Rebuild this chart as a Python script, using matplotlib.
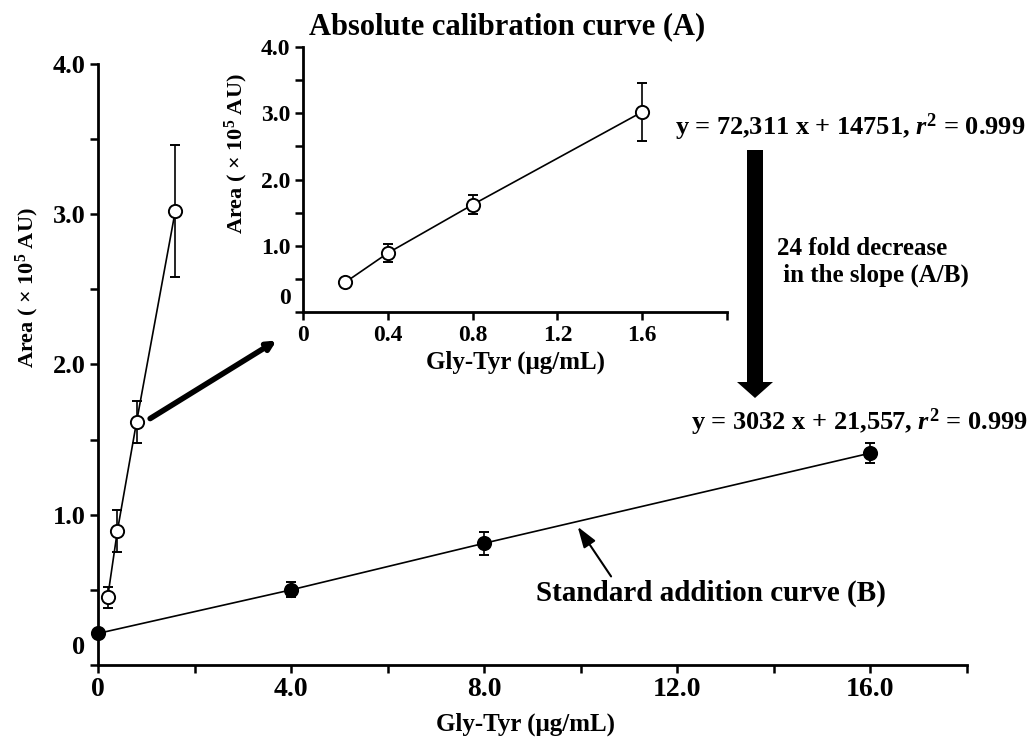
import matplotlib
matplotlib.use("Agg")
import matplotlib.pyplot as plt
from matplotlib.patches import FancyArrow
from matplotlib.transforms import ScaledTranslation

plt.rcParams['font.family'] = ['Liberation Serif', 'DejaVu Serif']
plt.rcParams['font.weight'] = 'bold'
plt.rcParams['mathtext.fontset'] = 'custom'
plt.rcParams['mathtext.rm'] = 'Liberation Serif:bold'
plt.rcParams['mathtext.it'] = 'Liberation Serif:italic:bold'
plt.rcParams['mathtext.bf'] = 'Liberation Serif:bold'

# Absolute calibration curve (A), Gly-Tyr in ug/mL, area x 10^5 AU
abs_x = [0.2, 0.4, 0.8, 1.6]
abs_y = [0.45, 0.89, 1.62, 3.02]
abs_err = [0.07, 0.14, 0.14, 0.44]

# Standard addition curve (B)
std_x = [0, 4, 8, 16]
std_y = [0.21, 0.50, 0.81, 1.41]
std_err = [0.02, 0.05, 0.075, 0.065]

main_xticks = [0, 4, 8, 12, 16]
main_xlabels = ["0", "4.0", "8.0", "12.0", "16.0"]
yticks = [0, 1, 2, 3, 4]
ylabels = ["0", "1.0", "2.0", "3.0", "4.0"]
inset_xticks = [0, 0.4, 0.8, 1.2, 1.6]
inset_xlabels = ["0", "0.4", "0.8", "1.2", "1.6"]

fig = plt.figure(figsize=(10.35, 7.45), dpi=100)
ax = fig.add_axes([0.0947, 0.1074, 0.8393, 0.8067])
ins = fig.add_axes([0.2928, 0.5812, 0.4096, 0.3557])

eb = dict(color='black', lw=1.2, elinewidth=1.2, capsize=3.5, capthick=1.3, ms=9.5, mew=1.4)

# main plot
ax.errorbar(abs_x, abs_y, yerr=abs_err, fmt='o-', mfc='white', mec='black', **eb)
ax.errorbar(std_x, std_y, yerr=std_err, fmt='o-', mfc='black', mec='black', clip_on=False, **eb)

ax.set_xlim(0, 18)
ax.set_ylim(0, 4.0)
ax.set_xticks(main_xticks)
ax.set_xticklabels(main_xlabels, fontsize=20, fontweight='bold')
ax.set_xticks([2, 6, 10, 14, 18], minor=True)
ax.set_yticks(yticks)
ax.set_yticklabels(ylabels, fontsize=19, fontweight='bold')
ax.set_yticks([0.5, 1.5, 2.5, 3.5], minor=True)

# inset
ins.set_facecolor('none')
ins.errorbar(abs_x, abs_y, yerr=abs_err, fmt='o-', mfc='white', mec='black', **eb)
ins.set_xlim(0, 2.0)
ins.set_ylim(0, 4.0)
ins.set_xticks(inset_xticks + [2.0])
ins.set_xticklabels(inset_xlabels + [""], fontsize=17, fontweight='bold')
ins.set_yticks(yticks)
ins.set_yticklabels(ylabels, fontsize=17, fontweight='bold')
ins.set_yticks([0.5, 1.5, 2.5, 3.5], minor=True)

for a in (ax, ins):
    for s in ('top', 'right'):
        a.spines[s].set_visible(False)
    for s in ('left', 'bottom'):
        a.spines[s].set_linewidth(2.0)
    a.tick_params(which='both', direction='out', width=1.8, length=6, pad=3)

ins.set_xlabel("Gly-Tyr (μg/mL)", fontsize=18, fontweight='bold', labelpad=4)

# raise the "0" labels a bit like the original
for a, dy in ((ax, 20), (ins, 16)):
    t0 = a.yaxis.get_major_ticks()[0]
    t0.label1.set_transform(t0.label1.get_transform() + ScaledTranslation(0, dy / 100, fig.dpi_scale_trans))

# labels
fig.text(27 / 1035, 1 - 288 / 745, "Area ( × 10$^{5}$ AU)", rotation=90, ha='center', va='center',
         fontsize=16, fontweight='bold')
fig.text(236 / 1035, 1 - 154 / 745, "Area ( × 10$^{5}$ AU)", rotation=90, ha='center', va='center',
         fontsize=16, fontweight='bold')
fig.text(526 / 1035, 1 - 724 / 745, "Gly-Tyr (μg/mL)", ha='center', va='center', fontsize=18, fontweight='bold')
fig.text(507 / 1035, 1 - 27 / 745, "Absolute calibration curve (A)", ha='center', va='center',
         fontsize=22, fontweight='bold')

fig.text(850 / 1035, 1 - 127 / 745, "y = 72,311 x + 14751, $\\mathit{r}^{2}$ = 0.999", ha='center', va='center',
         fontsize=19, fontweight='bold')
fig.text(859 / 1035, 1 - 422 / 745, "y = 3032 x + 21,557, $\\mathit{r}^{2}$ = 0.999", ha='center', va='center',
         fontsize=19, fontweight='bold')
fig.text(777 / 1035, 1 - 262 / 745, "24 fold decrease\n in the slope (A/B)", ha='left', va='center',
         fontsize=18, fontweight='bold', linespacing=1.25)

# big arrow between the two equations
fig.add_artist(FancyArrow(755 / 1035, 1 - 150 / 745, 0, -(398 - 150) / 745 + 16 / 745,
                          width=16 / 1035, head_width=36 / 1035, head_length=16 / 745,
                          length_includes_head=False, transform=fig.transFigure,
                          color='black', lw=0))

# arrow from main plot to inset
ax.annotate("", xy=(3.7, 2.16), xytext=(1.08, 1.64),
            arrowprops=dict(arrowstyle='-|>,head_length=0.5,head_width=0.25', lw=4, color='black',
                            shrinkA=0, shrinkB=0))

# label of standard addition curve
ax.annotate("Standard addition curve (B)", xy=(9.94, 0.92), xytext=(12.7, 0.48),
            ha='center', va='center', fontsize=21, fontweight='bold',
            arrowprops=dict(arrowstyle='-|>,head_length=0.6,head_width=0.2', lw=1.5, color='black',
                            shrinkA=0, shrinkB=0, relpos=(0.22, 1.0)))

fig.savefig("out.png", dpi=100)
